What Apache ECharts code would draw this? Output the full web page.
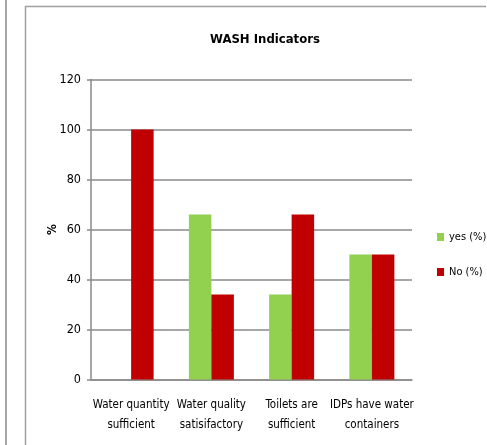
<!DOCTYPE html>
<html>
<head>
<meta charset="utf-8">
<script src="https://cdn.jsdelivr.net/npm/echarts@6/dist/echarts.min.js"></script>
<style>
  html, body { margin: 0; padding: 0; background: #fff; }
  #chart { width: 487px; height: 445px; }
</style>
</head>
<body>
<div id="chart"></div>
<script>
// WASH survey indicators, share of respondents answering yes / no
var categories = [
  'Water quantity\nsufficient',
  'Water quality\nsatisifactory',
  'Toilets are\nsufficient',
  'IDPs have water\ncontainers'
];
var yesValues = [0, 66, 34, 50];
var noValues = [100, 34, 66, 50];
var yTicks = [0, 20, 40, 60, 80, 100, 120];

var FONT = '"DejaVu Sans Condensed", "Liberation Sans Narrow", sans-serif';
var GRID_GREY = '#8a8a8a';

var chart = echarts.init(document.getElementById('chart'), null, { renderer: 'canvas' });

chart.setOption({
  animation: false,
  backgroundColor: '#ffffff',
  title: {
    text: 'WASH Indicators',
    left: 260,
    top: 28,
    textAlign: 'center',
    textStyle: { fontFamily: FONT, fontSize: 13, fontWeight: 'bold', color: '#000' }
  },
  legend: {
    orient: 'vertical',
    left: 437,
    top: 231.5,
    padding: 0,
    itemWidth: 7,
    itemHeight: 8,
    itemGap: 24,
    icon: 'rect',
    itemStyle: { borderWidth: 0 },
    textStyle: { fontFamily: FONT, fontSize: 11, color: '#000' },
    data: ['yes (%)', 'No (%)']
  },
  grid: { left: 91, right: 75, top: 79.5, bottom: 65.5, containLabel: false },
  xAxis: {
    type: 'category',
    data: categories,
    axisLine: { lineStyle: { color: GRID_GREY, width: 1.5 } },
    axisTick: { show: false },
    axisLabel: {
      fontFamily: FONT, fontSize: 11.5, color: '#000',
      interval: 0, margin: 16, lineHeight: 20
    }
  },
  yAxis: {
    type: 'value',
    min: yTicks[0],
    max: yTicks[yTicks.length - 1],
    interval: 20,
    name: '%',
    nameLocation: 'middle',
    nameGap: 32,
    nameMoveOverlap: false,
    nameRotate: 90,
    nameTextStyle: { fontFamily: FONT, fontSize: 12, fontWeight: 'bold', color: '#000' },
    axisLine: { show: true, lineStyle: { color: GRID_GREY, width: 1.5 } },
    axisTick: { show: true, length: 4, lineStyle: { color: GRID_GREY, width: 1.5 } },
    axisLabel: { fontFamily: FONT, fontSize: 12.5, color: '#000', margin: 10 },
    splitLine: { show: true, lineStyle: { color: GRID_GREY, width: 1.5 } }
  },
  series: [
    {
      name: 'yes (%)',
      type: 'bar',
      data: yesValues,
      barWidth: 22.5,
      barGap: '0%',
      itemStyle: { color: '#92d050' }
    },
    {
      name: 'No (%)',
      type: 'bar',
      data: noValues,
      barWidth: 22.5,
      barGap: '0%',
      itemStyle: { color: '#c00000' }
    }
  ],
  graphic: [
    // page rule on the left and the chart frame
    { type: 'line', shape: { x1: 6, y1: 0, x2: 6, y2: 445 }, style: { stroke: '#a6a6a6', lineWidth: 2 } },
    { type: 'polyline', shape: { points: [[25.5, 445], [25.5, 6.5], [486, 6.5]] },
      style: { stroke: '#a0a0a0', lineWidth: 1.5, fill: null } }
  ]
});
</script>
</body>
</html>
